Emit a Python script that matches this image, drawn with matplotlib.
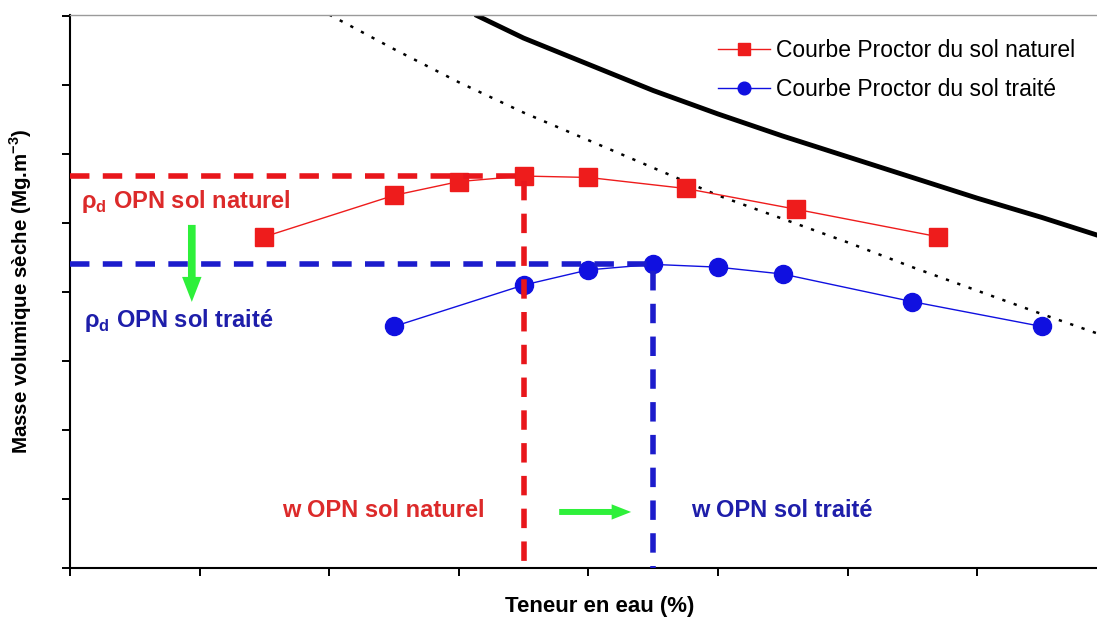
import matplotlib.pyplot as plt
from matplotlib.patches import FancyArrowPatch, ArrowStyle

plt.rcParams['font.family'] = ['Liberation Sans', 'DejaVu Sans']

# Proctor curves: water content (%) / dry density (Mg.m-3)
w_naturel = [11.0, 13.0, 14.0, 15.0, 16.0, 17.5, 19.2, 21.4]
rho_naturel = [1.640, 1.670, 1.680, 1.684, 1.683, 1.675, 1.660, 1.640]
w_traite = [13.0, 15.0, 16.0, 17.0, 18.0, 19.0, 21.0, 23.0]
rho_traite = [1.575, 1.605, 1.616, 1.620, 1.618, 1.613, 1.593, 1.575]

# optimum Proctor normal
w_opn = {'naturel': 15.0, 'traite': 17.0}
rho_opn = {'naturel': 1.684, 'traite': 1.620}

# saturation curves
w_sat = [14.25, 15.0, 16.0, 17.0, 18.0, 19.0, 20.0, 21.0, 22.0, 23.0, 24.4]
rho_sat = [1.801, 1.784, 1.765, 1.746, 1.729, 1.713, 1.698, 1.683, 1.668, 1.654, 1.633]
w_sat2 = [12.0, 13.0, 14.0, 15.0, 16.0, 17.0, 18.0, 19.0, 20.0, 21.0, 22.0, 23.0, 24.4]
rho_sat2 = [1.801, 1.776, 1.752, 1.730, 1.710, 1.690, 1.670, 1.653, 1.636, 1.618, 1.601, 1.584, 1.561]

RED = '#ee1c1c'
BLUE = '#1010e0'
RED_TXT = '#dc2a2a'
BLUE_TXT = '#1e1eaa'
GREEN = '#2ef03a'

fig = plt.figure(figsize=(10.97, 6.19), dpi=100)
ax = fig.add_axes([70 / 1097, 51 / 619, 1060 / 1097, 553 / 619])

ax.plot(w_sat, rho_sat, color='black', lw=3.5, solid_capstyle='butt',
        solid_joinstyle='round')
ax.plot(w_sat2, rho_sat2, color='black', lw=1.8, dashes=(1.3, 3.5))

ax.plot(w_naturel, rho_naturel, color=RED, lw=1.0, marker='s', ms=12.5,
        mec=RED, mfc=RED, label='Courbe Proctor du sol naturel', zorder=3)
ax.plot(w_traite, rho_traite, color=BLUE, lw=1.0, marker='o', ms=13,
        mec=BLUE, mfc=BLUE, label='Courbe Proctor du sol traité', zorder=3)

# dashed guides to the optimum
for key, col in (('naturel', '#e8161b'), ('traite', '#1c1ccc')):
    ax.plot([8, w_opn[key], w_opn[key]], [rho_opn[key], rho_opn[key], 1.40],
            color=col, lw=4, dashes=(3.5, 2.4), zorder=4)

ax.set_xlim(8, 24.36)
ax.set_ylim(1.40, 1.8007)
ax.set_xticks([8, 10, 12, 14, 16, 18, 20, 22, 24])
ax.set_yticks([1.40, 1.45, 1.50, 1.55, 1.60, 1.65, 1.70, 1.75, 1.80])
ax.set_xticklabels([])
ax.set_yticklabels([])
ax.tick_params(direction='out', length=6, width=1.4, color='black')
for s in ('left', 'bottom'):
    ax.spines[s].set_linewidth(1.5)
ax.spines['top'].set_color('#9a9a9a')
ax.spines['top'].set_linewidth(1.0)
ax.spines['right'].set_visible(False)

ax.set_xlabel('Teneur en eau (%)', fontsize=16, fontweight='bold')
ax.xaxis.set_label_coords(0.5, -0.05)
ax.set_ylabel('Masse volumique sèche (Mg.m$^{\\mathregular{-3}}$)',
              fontsize=14.8, fontweight='bold')
ax.yaxis.set_label_coords(-0.034, 0.5)

ax.text(8.17, 1.661, 'ρ$_\\mathregular{d}$ OPN sol naturel', color=RED_TXT,
        fontsize=17, fontweight='bold', va='baseline')
ax.text(8.22, 1.5746, 'ρ$_\\mathregular{d}$ OPN sol traité', color=BLUE_TXT,
        fontsize=17, fontweight='bold', va='baseline')
ax.text(11.27, 1.437, 'w OPN sol naturel', color=RED_TXT,
        fontsize=17, fontweight='bold', va='baseline')
ax.text(17.59, 1.437, 'w OPN sol traité', color=BLUE_TXT,
        fontsize=17, fontweight='bold', va='baseline')

# green arrows: shift of the optimum
ax.add_patch(FancyArrowPatch((9.88, 1.6486), (9.88, 1.5928),
                             arrowstyle=ArrowStyle.Simple(head_length=18, head_width=14, tail_width=5.5),
                             mutation_scale=1, shrinkA=0, shrinkB=0,
                             color=GREEN, lw=0, zorder=5))
ax.add_patch(FancyArrowPatch((15.55, 1.4406), (16.66, 1.4406),
                             arrowstyle=ArrowStyle.Simple(head_length=14, head_width=11, tail_width=4.3),
                             mutation_scale=1, shrinkA=0, shrinkB=0,
                             color=GREEN, lw=0, zorder=5))

ax.legend(loc='upper left', bbox_to_anchor=(0.611, 0.957), frameon=False,
          fontsize=16.5, handlelength=2.3, handletextpad=0.25, labelspacing=0.7,
          markerscale=0.7, borderpad=0, borderaxespad=0)

fig.savefig('out.png', dpi=100)
